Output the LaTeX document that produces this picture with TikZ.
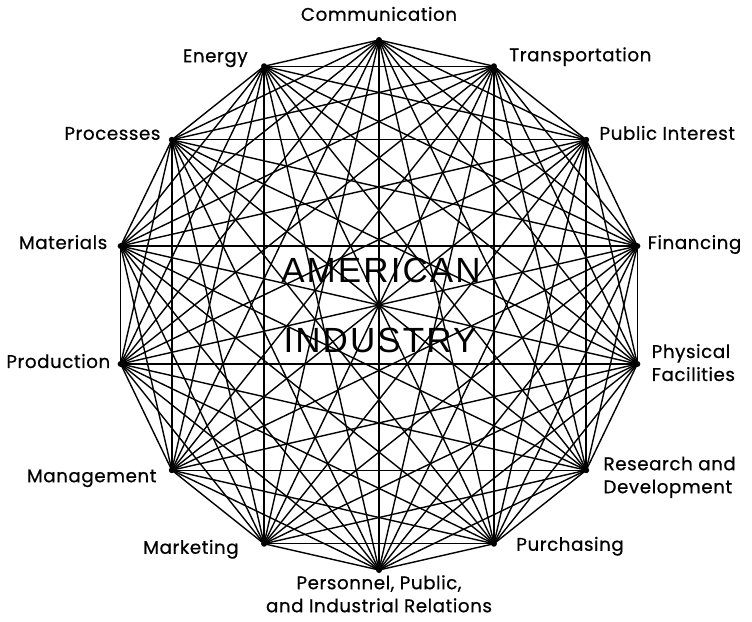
\documentclass[tikz,border=0pt]{standalone}
\usepackage{fontspec}
\setmainfont{Poppins}[LetterSpace=3,FakeBold=0.6]
\newfontfamily\midfont[LetterSpace=6]{Liberation Sans}
\usetikzlibrary{positioning}
\newcommand{\lbl}{\fontsize{18.3}{23}\selectfont}
\def\R{265}

\begin{document}
\begin{tikzpicture}[x=1pt, y=1pt,
    hub/.style={circle,fill,inner sep=0pt,minimum size=6pt},
    every label/.style={font=\lbl, inner sep=0pt, align=left},
    link/.style={line width=1.4pt, line cap=round}]
  \useasboundingbox (-379,-316) rectangle (373,305);
  % the fourteen corners of the polygon
  \node[hub,label={[anchor=base,label distance=16pt]above:Communication}]                 (v0)  at (90:\R) {};
  \node[hub,label={[anchor=base west,label distance=12pt,yshift=5pt]right:Transportation}] (v1)  at (64.29:\R) {};
  \node[hub,label={[anchor=base west,label distance=10pt]right:Public Interest}]           (v2)  at (38.57:\R) {};
  \node[hub,label={[anchor=base west,label distance=7pt,yshift=-3pt]right:Financing}]      (v3)  at (12.86:\R) {};
  \node[hub,label={[anchor=base west,label distance=11pt,yshift=-17pt]right:{Physical\\Facilities}}] (v4) at (-12.86:\R) {};
  \node[hub,label={[anchor=base west,label distance=14pt,yshift=-23pt]right:{Research and\\Development}}] (v5) at (-38.57:\R) {};
  \node[hub,label={[anchor=base west,label distance=19pt,yshift=-7pt]right:Purchasing}]    (v6)  at (-64.29:\R) {};
  \node[hub,label={[anchor=base,label distance=39pt,align=center]below:{Personnel, Public,\\and Industrial Relations}}] (v7) at (-90:\R) {};
  \node[hub,label={[anchor=base east,label distance=22pt,yshift=-10pt]left:Marketing}]     (v8)  at (-115.71:\R) {};
  \node[hub,label={[anchor=base east,label distance=12pt,yshift=-12pt]left:Management}]    (v9)  at (-141.43:\R) {};
  \node[hub,label={[anchor=base east,label distance=7pt,yshift=-4pt]left:Production}]      (v10) at (-167.14:\R) {};
  \node[hub,label={[anchor=base east,label distance=10pt,yshift=-3pt]left:Materials}]      (v11) at (167.14:\R) {};
  \node[hub,label={[anchor=base east,label distance=8pt]left:Processes}]                   (v12) at (141.43:\R) {};
  \node[hub,label={[anchor=base east,label distance=13pt,yshift=4pt]left:Energy}]          (v13) at (115.71:\R) {};
  % every corner joined to every other one
  \foreach \i in {0,...,12} {
    \pgfmathtruncatemacro{\nxt}{\i+1}
    \foreach \j in {\nxt,...,13}
      \draw[link] (v\i.center) -- (v\j.center);
  }
  \node[font=\midfont\fontsize{35}{35}\selectfont] (top) at (2,35) {AMERICAN};
  \node[font=\midfont\fontsize{35}{35}\selectfont] (bot) at (1,-35) {INDUSTRY};
\end{tikzpicture}
\end{document}
